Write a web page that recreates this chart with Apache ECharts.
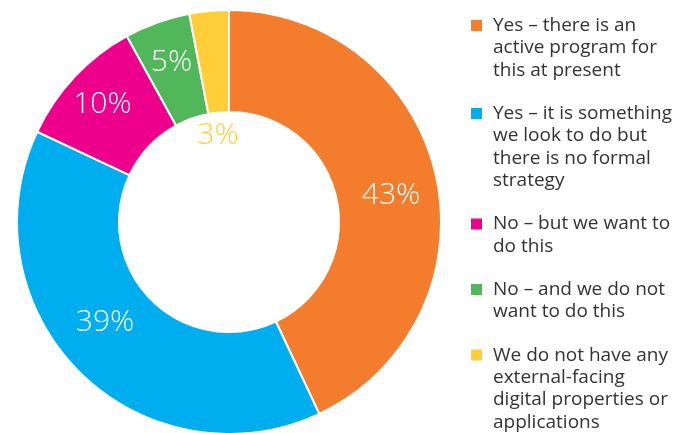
<!DOCTYPE html>
<html>
<head>
<meta charset="utf-8">
<script src="https://cdn.jsdelivr.net/npm/echarts@6/dist/echarts.min.js"></script>
<style>html,body{margin:0;padding:0;background:#fff;}#c{width:691px;height:433px;}</style>
</head>
<body>
<div id="c"></div>
<script>
const categories = [
  "Yes – there is an active program for this at present",
  "Yes – it is something we look to do but there is no formal strategy",
  "No – but we want to do this",
  "No – and we do not want to do this",
  "We do not have any external-facing digital properties or applications"
];
const legendLines = [
  ["Yes – there is an", "active program for", "this at present"],
  ["Yes – it is something", "we look to do but", "there is no formal", "strategy"],
  ["No – but we want to", "do this"],
  ["No – and we do not", "want to do this"],
  ["We do not have any", "external-facing", "digital properties or", "applications"]
];
const values = [43, 39, 10, 5, 3];
const labels = ["43%", "39%", "10%", "5%", "3%"];

const colors = ["#F37C2D", "#00AEEF", "#EC008C", "#52B75A", "#FFCE38"];
const labelColors = ["#fff", "#fff", "#fff", "#fff", "#FFCE38"];
// label nudges [dx, dy] from the default inside position
const labelNudges = [[2, 9], [-8, -16], [-7, -5], [-2, -5.5], [4.4, 76.7]];

const LH = 22.4, GAP = 20.8, FIRST_ICON_Y = 19, ICON = 13, LEGEND_X = 469;

const legends = [];
let y = FIRST_ICON_Y;
categories.forEach(function (name, i) {
  const n = legendLines[i].length;
  const boxTop = ICON / 2 - (2 * n - 1) * LH / 2;
  legends.push({
    show: true,
    data: [name],
    orient: 'vertical',
    left: LEGEND_X,
    top: y + boxTop,
    padding: 0,
    icon: 'rect',
    itemWidth: ICON,
    itemHeight: ICON,
    selectedMode: false,
    formatter: function () { return '\n'.repeat(n - 1) + legendLines[i].join('\n'); },
    textStyle: {
      fontFamily: 'Open Sans',
      fontSize: 19,
      color: '#333333',
      lineHeight: LH,
      padding: [0, 0, 0, 5]
    }
  });
  y += n * LH + GAP;
});

const data = values.map(function (v, i) {
  return {
    name: categories[i],
    value: v,
    itemStyle: { color: colors[i] },
    label: { color: labelColors[i] }
  };
});

const chart = echarts.init(document.getElementById('c'), null, { renderer: 'canvas' });
chart.setOption({
  animation: false,
  backgroundColor: '#ffffff',
  legend: legends,
  series: [{
    type: 'pie',
    center: [229, 222],
    radius: [110, 212],
    startAngle: 90,
    clockwise: true,
    avoidLabelOverlap: false,
    minShowLabelAngle: 0,
    itemStyle: { borderColor: '#ffffff', borderWidth: 2 },
    label: {
      show: true,
      position: 'inside',
      fontFamily: 'Open Sans',
      fontWeight: 300,
      fontSize: 30,
      formatter: function (p) { return labels[p.dataIndex]; }
    },
    labelLayout: function (p) {
      const d = labelNudges[p.dataIndex];
      return { dx: d[0], dy: d[1] };
    },
    labelLine: { show: false },
    emphasis: { disabled: true },
    data: data
  }]
});
</script>
</body>
</html>
